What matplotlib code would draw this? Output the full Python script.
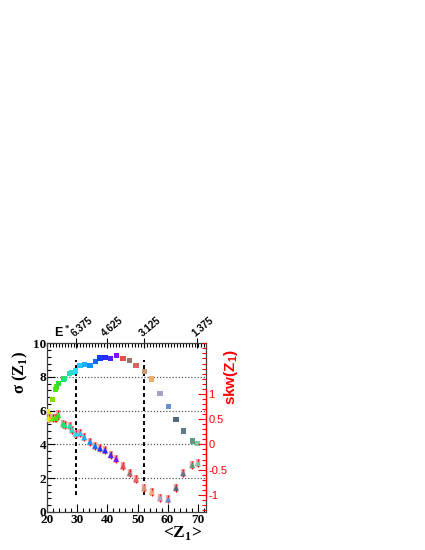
import matplotlib.pyplot as plt
from matplotlib.ticker import MultipleLocator, FixedLocator

# mean charge of fragment 1, width and skewness of its distribution
z1_mean = [20.0, 20.4, 21.8, 22.7, 23.0, 23.7, 25.3, 25.8, 27.5, 28.2,
           29.4, 30.9, 32.3, 34.2, 35.9, 37.5, 39.2, 41.1, 42.9, 45.2,
           47.4, 49.5, 52.2, 54.7, 57.5, 60.2, 62.8, 65.2, 68.2, 70.0]
sigma_z1 = [5.95, 5.75, 6.65, 7.24, 7.40, 7.60, 7.88, 7.92, 8.20, 8.25,
            8.35, 8.70, 8.72, 8.70, 8.93, 9.13, 9.17, 9.10, 9.30, 9.08,
            8.99, 8.70, 8.32, 7.88, 7.04, 6.23, 5.46, 4.79, 4.20, 4.05]
skw_z1 = [0.50, 0.53, 0.52, 0.52, 0.53, 0.58, 0.41, 0.38, 0.37, 0.29,
          0.21, 0.22, 0.14, 0.05, -0.03, -0.08, -0.12, -0.21, -0.29, -0.43,
          -0.57, -0.69, -0.86, -0.94, -1.06, -1.09, -0.86, -0.57, -0.41, -0.37]
skw_err = [0.08, 0.08, 0.08, 0.08, 0.08, 0.10, 0.08, 0.08, 0.08, 0.08,
           0.08, 0.08, 0.08, 0.08, 0.08, 0.08, 0.08, 0.08, 0.08, 0.08,
           0.08, 0.08, 0.08, 0.08, 0.08, 0.08, 0.08, 0.08, 0.08, 0.08]
colors = ['#f0f000', '#e8e000', '#80e000', '#58e000', '#48e020', '#30e030',
          '#20e060', '#20e080', '#20e0b0', '#20e0d0', '#20e0ff', '#20c8ff',
          '#18b0ff', '#1090ff', '#1068ff', '#1040ff', '#2828ff', '#5020ff',
          '#8010ff', '#e05050', '#a07070', '#e06060', '#c89878', '#e8b070',
          '#a8a0c8', '#6890d0', '#506880', '#607890', '#609880', '#80c8a0']

estar_pos = [29.4, 39.7, 52.3, 69.7]
estar_labels = ['6.375', '4.625', '3.125', '1.375']
cut_lines = [29.4, 52.3]

serif = 'Liberation Serif'
sans = 'Liberation Sans'
plt.rcParams['mathtext.fontset'] = 'custom'
plt.rcParams['mathtext.rm'] = 'Liberation Serif:bold'
plt.rcParams['mathtext.bf'] = 'Liberation Serif:bold'
plt.rcParams['mathtext.sf'] = 'Liberation Sans:bold'

fig = plt.figure(figsize=(4.25, 5.5), dpi=100)
ax = fig.add_axes([0.1113, 0.0696, 0.3729, 0.3062])
ax.set_xlim(20, 72.7)
ax.set_ylim(0, 10)

for y in [2, 4, 6, 8]:
    ax.axhline(y, color='0.35', lw=0.9, ls=(0, (1, 1.5)), zorder=1)
ax.vlines(cut_lines, 1, 9, colors='black', lw=1.4, ls=(0, (2, 1.6)), zorder=2)

ax.scatter(z1_mean, sigma_z1, marker='s', s=14, c=colors, linewidths=0, zorder=4)

ax.xaxis.set_major_locator(MultipleLocator(10))
ax.xaxis.set_minor_locator(MultipleLocator(2))
ax.yaxis.set_major_locator(MultipleLocator(2))
ax.yaxis.set_minor_locator(MultipleLocator(0.4))
ax.tick_params(which='both', direction='in', top=False, right=False)
ax.tick_params(axis='y', pad=0.5)
ax.tick_params(axis='x', pad=1.5)
ax.tick_params(which='major', length=6, width=0.8)
ax.tick_params(which='minor', length=3, width=0.8)
for lab in ax.get_xticklabels() + ax.get_yticklabels():
    lab.set_fontfamily(serif)
    lab.set_fontweight('bold')
    lab.set_fontsize(9.5)
for sp in ax.spines.values():
    sp.set_linewidth(0.9)
    sp.set_color('0.25')

ax.text(-0.17, 0.83, r'σ (Z$_\mathbf{1}$)', transform=ax.transAxes,
        rotation=90, ha='center', va='center', fontsize=12, fontfamily=serif,
        fontweight='bold')
ax.text(0.977, -0.075, r'<Z$_\mathbf{1}$>', transform=ax.transAxes, ha='right',
        va='top', fontsize=12.5, fontfamily=serif, fontweight='bold')

# E* scale on top
top = ax.secondary_xaxis('top')
top.xaxis.set_major_locator(FixedLocator(estar_pos))
top.xaxis.set_minor_locator(MultipleLocator(1))
top.set_xticklabels(estar_labels, rotation=40, ha='left', va='bottom',
                    rotation_mode='anchor', fontsize=7, fontfamily=sans,
                    fontweight='bold')
top.tick_params(which='major', direction='inout', length=7, width=0.8, pad=0)
top.tick_params(which='minor', direction='in', length=3, width=0.8)
top.spines['top'].set_visible(False)
ax.text(0.04, 1.015, r'E$^*$', transform=ax.transAxes, ha='left', va='bottom',
        fontsize=9, fontfamily=sans, fontweight='bold')

# skewness on the red right axis
ax2 = ax.twinx()
ax2.set_ylim((0 - 4) / 3, (10 - 4) / 3)
ax2.errorbar(z1_mean, skw_z1, yerr=skw_err, fmt='none', ecolor='#f4a8a8',
             elinewidth=3.2, zorder=2)
ax2.errorbar(z1_mean, skw_z1, yerr=skw_err, fmt='none', ecolor='red',
             elinewidth=0.9, zorder=3)
ax2.scatter(z1_mean, skw_z1, marker='^', s=18, c=colors, linewidths=0, zorder=4)
for name in ['top', 'left', 'bottom']:
    ax2.spines[name].set_visible(False)
ax2.spines['right'].set_color('red')
ax2.spines['right'].set_linewidth(0.9)
ax2.spines['right'].set_bounds(-1.07, 1.07)
ax2.yaxis.set_major_locator(FixedLocator([-1, -0.5, 0, 0.5, 1]))
ax2.yaxis.set_minor_locator(MultipleLocator(0.1))
ax2.set_yticklabels(['-1', '-0.5', '0', '0.5', '1'], color='red',
                    fontsize=8, fontfamily=sans)
ax2.tick_params(which='both', direction='in', colors='red', pad=2)
ax2.tick_params(which='major', length=6, width=0.8)
ax2.tick_params(which='minor', length=3, width=0.8)
ax2.text(1.16, 0.8, r'skw(Z$_\mathsf{1}$)', transform=ax.transAxes, rotation=90,
         ha='center', va='center', fontsize=11, fontfamily=sans,
         fontweight='bold', color='red')

fig.savefig('out.png', dpi=100)
